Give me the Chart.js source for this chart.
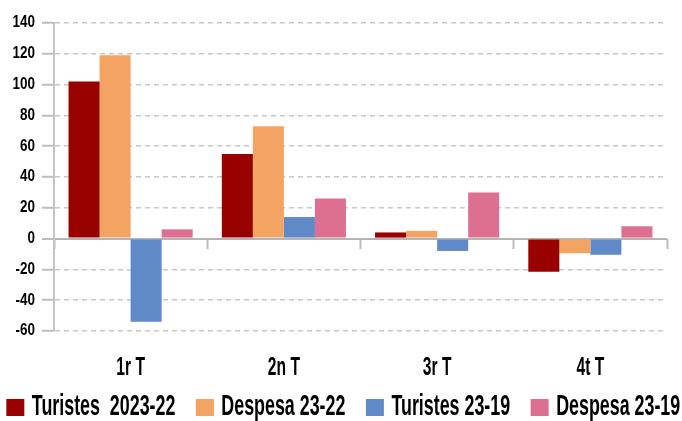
<!DOCTYPE html>
<html>
<head>
<meta charset="utf-8">
<script src="https://cdn.jsdelivr.net/npm/chart.js@4"></script>
<style>
  html, body { margin: 0; padding: 0; background: #fff; }
  #wrap { width: 682px; height: 421px; }
</style>
</head>
<body>
<div id="wrap"><canvas id="chart"></canvas></div>
<script>
const quarters = ["1r T", "2n T", "3r T", "4t T"];
const turistes2322 = [102, 55, 4, -21.5];
const despesa2322 = [119, 73, 5, -9.5];
const turistes2319 = [-54, 14, -8, -10.5];
const despesa2319 = [6, 26, 30, 8];
const seriesNames = ["Turistes  2023-22", "Despesa 23-22", "Turistes 23-19", "Despesa 23-19"];

const FONT = "'Liberation Sans', 'DejaVu Sans', sans-serif";
// no condensed face is installed, so stretch glyphs per font size: [x, y]
const STRETCH = { 16: [0.84, 1], 26: [0.6, 1], 15: [1.19, 1.92] };

window.addEventListener("load", () => {
    let canvas = document.getElementById("chart");
    let c2d = canvas.getContext("2d");
    let fill = c2d.fillText.bind(c2d);
    let measure = c2d.measureText.bind(c2d);
    function stretch() {
        let m = /(\d+(?:\.\d+)?)px/.exec(c2d.font);
        return (m && STRETCH[Math.round(+m[1])]) || [1, 1];
    }
    c2d.fillText = function(t, x, y) {
        let s = stretch();
        c2d.save();
        c2d.translate(x, y);
        c2d.scale(s[0], s[1]);
        fill(t, 0, 0);
        c2d.restore();
    };
    c2d.measureText = function(t) {
        let m = measure(t);
        let s = stretch();
        return {
            width: m.width * s[0],
            actualBoundingBoxAscent: m.actualBoundingBoxAscent * s[1],
            actualBoundingBoxDescent: m.actualBoundingBoxDescent * s[1],
            actualBoundingBoxLeft: m.actualBoundingBoxLeft * s[0],
            actualBoundingBoxRight: m.actualBoundingBoxRight * s[0]
        };
    };

    new Chart(canvas, {
        type: "bar",
        data: {
            labels: quarters,
            datasets: [
                { label: seriesNames[0], data: turistes2322, backgroundColor: "#990000" },
                { label: seriesNames[1], data: despesa2322, backgroundColor: "#F4A462" },
                { label: seriesNames[2], data: turistes2319, backgroundColor: "#5F8AC7" },
                { label: seriesNames[3], data: despesa2319, backgroundColor: "#DD7092" }
            ]
        },
        options: {
            responsive: true,
            maintainAspectRatio: false,
            animation: false,
            datasets: { bar: { categoryPercentage: 0.81, barPercentage: 1.0 } },
            // negative sides so the legend row has room for all four items
            layout: { padding: { top: 23, right: -52.25, left: -47.75, bottom: -5 } },
            plugins: {
                tooltip: { enabled: false },
                legend: {
                    position: "bottom",
                    labels: {
                        boxWidth: 18,
                        boxHeight: 17,
                        padding: 20.5,
                        color: "#000",
                        font: { family: FONT, size: 15, weight: "bold" }
                    }
                }
            },
            scales: {
                x: {
                    grid: { display: false, drawTicks: false },
                    border: { display: false },
                    ticks: {
                        padding: 21,
                        color: "#000",
                        font: { family: FONT, size: 26, weight: "bold" }
                    },
                    afterFit: (s) => { s.height = 47.5; }
                },
                x2: {
                    type: "category",
                    labels: quarters,
                    offset: true,
                    position: { y: 0 },
                    grid: {
                        offset: true,
                        drawOnChartArea: false,
                        tickLength: 10,
                        tickColor: "#bdbdbd",
                        tickWidth: 2,
                        color: "#bdbdbd"
                    },
                    border: { display: false },
                    ticks: { display: false }
                },
                y: {
                    min: -60,
                    max: 140,
                    ticks: {
                        stepSize: 20,
                        padding: 7,
                        color: "#000",
                        font: { family: FONT, size: 16, weight: "bold" }
                    },
                    grid: {
                        color: (c) => c.tick && c.tick.value === 0 ? "#b4b4b4" : "#c8c8c8",
                        lineWidth: (c) => c.tick && c.tick.value === 0 ? 2 : 1.5,
                        tickLength: 12,
                        tickBorderDash: [],
                        tickColor: "#bdbdbd",
                        tickWidth: 2
                    },
                    border: {
                        display: true,
                        color: "#c4c4c4",
                        width: 2,
                        dash: (c) => c.tick && c.tick.value === 0 ? [] : [5, 4]
                    },
                    afterFit: (s) => { s.width = 101.75; }
                },
                yRight: {
                    position: "right",
                    min: -60,
                    max: 140,
                    grid: { drawOnChartArea: false, drawTicks: false },
                    border: { display: false },
                    ticks: { display: false },
                    afterFit: (s) => { s.width = 67.25; }
                }
            }
        }
    });
});
</script>
</body>
</html>
